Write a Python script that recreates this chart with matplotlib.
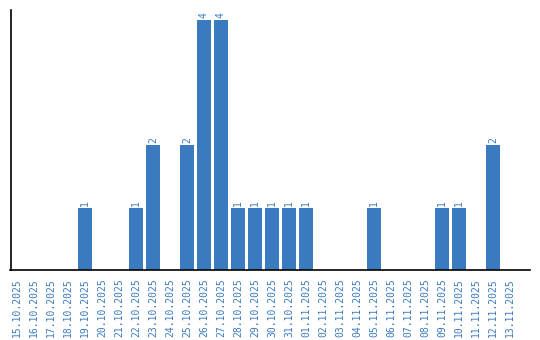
import matplotlib
matplotlib.use("Agg")
import matplotlib.pyplot as plt
import numpy as np

dates = ["15.10.2025","16.10.2025","17.10.2025","18.10.2025","19.10.2025","20.10.2025",
         "21.10.2025","22.10.2025","23.10.2025","24.10.2025","25.10.2025","26.10.2025",
         "27.10.2025","28.10.2025","29.10.2025","30.10.2025","31.10.2025","01.11.2025",
         "02.11.2025","03.11.2025","04.11.2025","05.11.2025","06.11.2025","07.11.2025",
         "08.11.2025","09.11.2025","10.11.2025","11.11.2025","12.11.2025","13.11.2025"]
counts = [0,0,0,0,1,0,0,1,2,0,2,4,4,1,1,1,1,1,0,0,0,1,0,0,0,1,1,0,2,0]

color = "#3a7bbf"
fig = plt.figure(figsize=(5.4, 3.4), dpi=100)
ax = fig.add_axes([10.5/540, 70/340, (530-10.5)/540, 260/340])
x = np.arange(len(dates))
bars = ax.bar(x, counts, width=0.82, color=color)
for xi, c in zip(x, counts):
    if c > 0:
        ax.text(xi, c + 0.03, str(c), rotation=90, ha="center", va="bottom",
                color=color, fontsize=7, family="DejaVu Sans Mono")
ax.set_xlim(-0.38, 30.18)
ax.set_ylim(0, 4.16)
ax.set_xticks(x)
ax.set_xticklabels(dates, rotation=90, color=color, fontsize=7, family="DejaVu Sans Mono")
ax.tick_params(axis="x", length=0, pad=6)
ax.set_yticks([])
for s in ["top", "right"]:
    ax.spines[s].set_visible(False)
ax.spines["left"].set_linewidth(1.2)
ax.spines["bottom"].set_linewidth(1.2)
fig.savefig("out.png", dpi=100)
